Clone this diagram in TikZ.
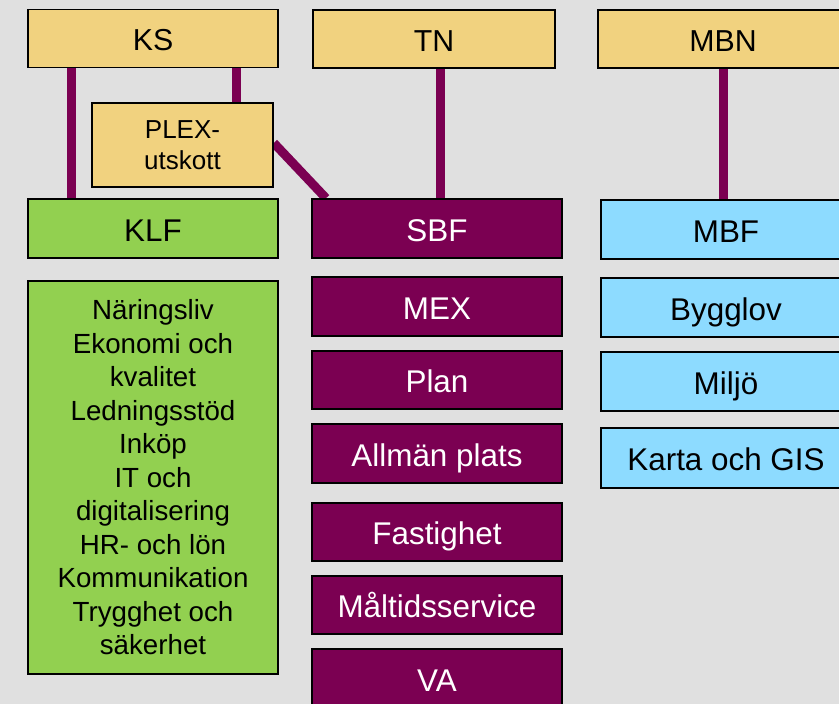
\documentclass[tikz,border=0pt]{standalone}
\usepackage{fontspec}
\setmainfont{Liberation Sans}
\usetikzlibrary{backgrounds}
\definecolor{bgc}{HTML}{E0E0E0}
\definecolor{yel}{HTML}{F1D27F}
\definecolor{grn}{HTML}{92D050}
\definecolor{pur}{HTML}{7B0052}
\definecolor{blu}{HTML}{8DDBFF}
\tikzset{
  box/.style={draw=black, line width=1.6pt, inner sep=0pt},
  one/.style={text height=25.5pt, text depth=0pt},
  head/.style={box, fill=yel, minimum width=250pt, minimum height=58pt, text height=24.7pt, text depth=0pt, font=\fontsize{30.3}{36}\selectfont},
  grnbox/.style={box, fill=grn, minimum width=250pt},
  purbox/.style={box, one, fill=pur, text=white, minimum width=250pt, minimum height=59pt, font=\fontsize{31.4}{37}\selectfont},
  blubox/.style={box, one, fill=blu, minimum width=250pt, minimum height=59pt, font=\fontsize{31.4}{37}\selectfont},
  conn/.style={draw=pur, line width=9pt}
}
\begin{document}
\begin{tikzpicture}[x=1pt,y=-1pt]
\begin{scope}[on background layer]
\fill[bgc] (0,0) rectangle (839,704);
\end{scope}
\useasboundingbox (0,0) rectangle (839,704);
% top row
\node[head] (KS) at (153,38.5) {KS};
\node[head, minimum width=242pt] (TN) at (434,39) {TN};
\node[head] (MBN) at (723,39) {MBN};
\node[box, align=center, fill=yel, minimum width=181pt, minimum height=84pt, font=\fontsize{26}{31.5}\selectfont] (PLEX) at (182.5,145) {PLEX-\\utskott};
% second row
\node[grnbox, one, minimum height=59pt, font=\fontsize{31.4}{37}\selectfont] (KLF) at (153,228.5) {KLF};
\node[purbox] (SBF) at (437,228.5) {SBF};
\node[blubox] (MBF) at (726,229.5) {MBF};
% green list
\node[grnbox, align=center, minimum height=393pt, font=\fontsize{27.7}{33.5}\selectfont] (LIST) at (153,477.5)
 {Näringsliv\\Ekonomi och\\kvalitet\\Ledningsstöd\\Inköp\\IT och\\digitalisering\\HR- och lön\\Kommunikation\\Trygghet och\\säkerhet};
% purple column
\node[purbox] (MEX) at (437,306.5) {MEX};
\node[purbox, minimum height=58pt] (PLAN) at (437,380) {Plan};
\node[purbox] (ALLM) at (437,453.5) {Allmän plats};
\node[purbox, minimum height=58pt] (FAST) at (437,532) {Fastighet};
\node[purbox, minimum height=58pt] (MALT) at (437,605) {Måltidsservice};
\node[purbox] (VA) at (437,678.5) {VA};
% blue column
\node[blubox] (BYGG) at (726,307.5) {Bygglov};
\node[blubox] (MILJO) at (726,381.5) {Miljö};
\node[blubox, minimum height=60pt] (KARTA) at (726,458) {Karta och GIS};
% connectors
\begin{scope}[on background layer]
\draw[conn] ([xshift=-82pt]KS.south) -- ([xshift=-82pt]KLF.north);
\draw[conn] ([xshift=83.5pt]KS.south) -- ([xshift=54pt]PLEX.north);
\draw[conn] ([yshift=2pt]PLEX.east) -- ([xshift=-111pt]SBF.north);
\draw[conn] ([xshift=6pt]TN.south) -- ([xshift=3pt]SBF.north);
\draw[conn] (MBN.south) -- ([xshift=-3pt]MBF.north);
\end{scope}
\end{tikzpicture}
\end{document}
